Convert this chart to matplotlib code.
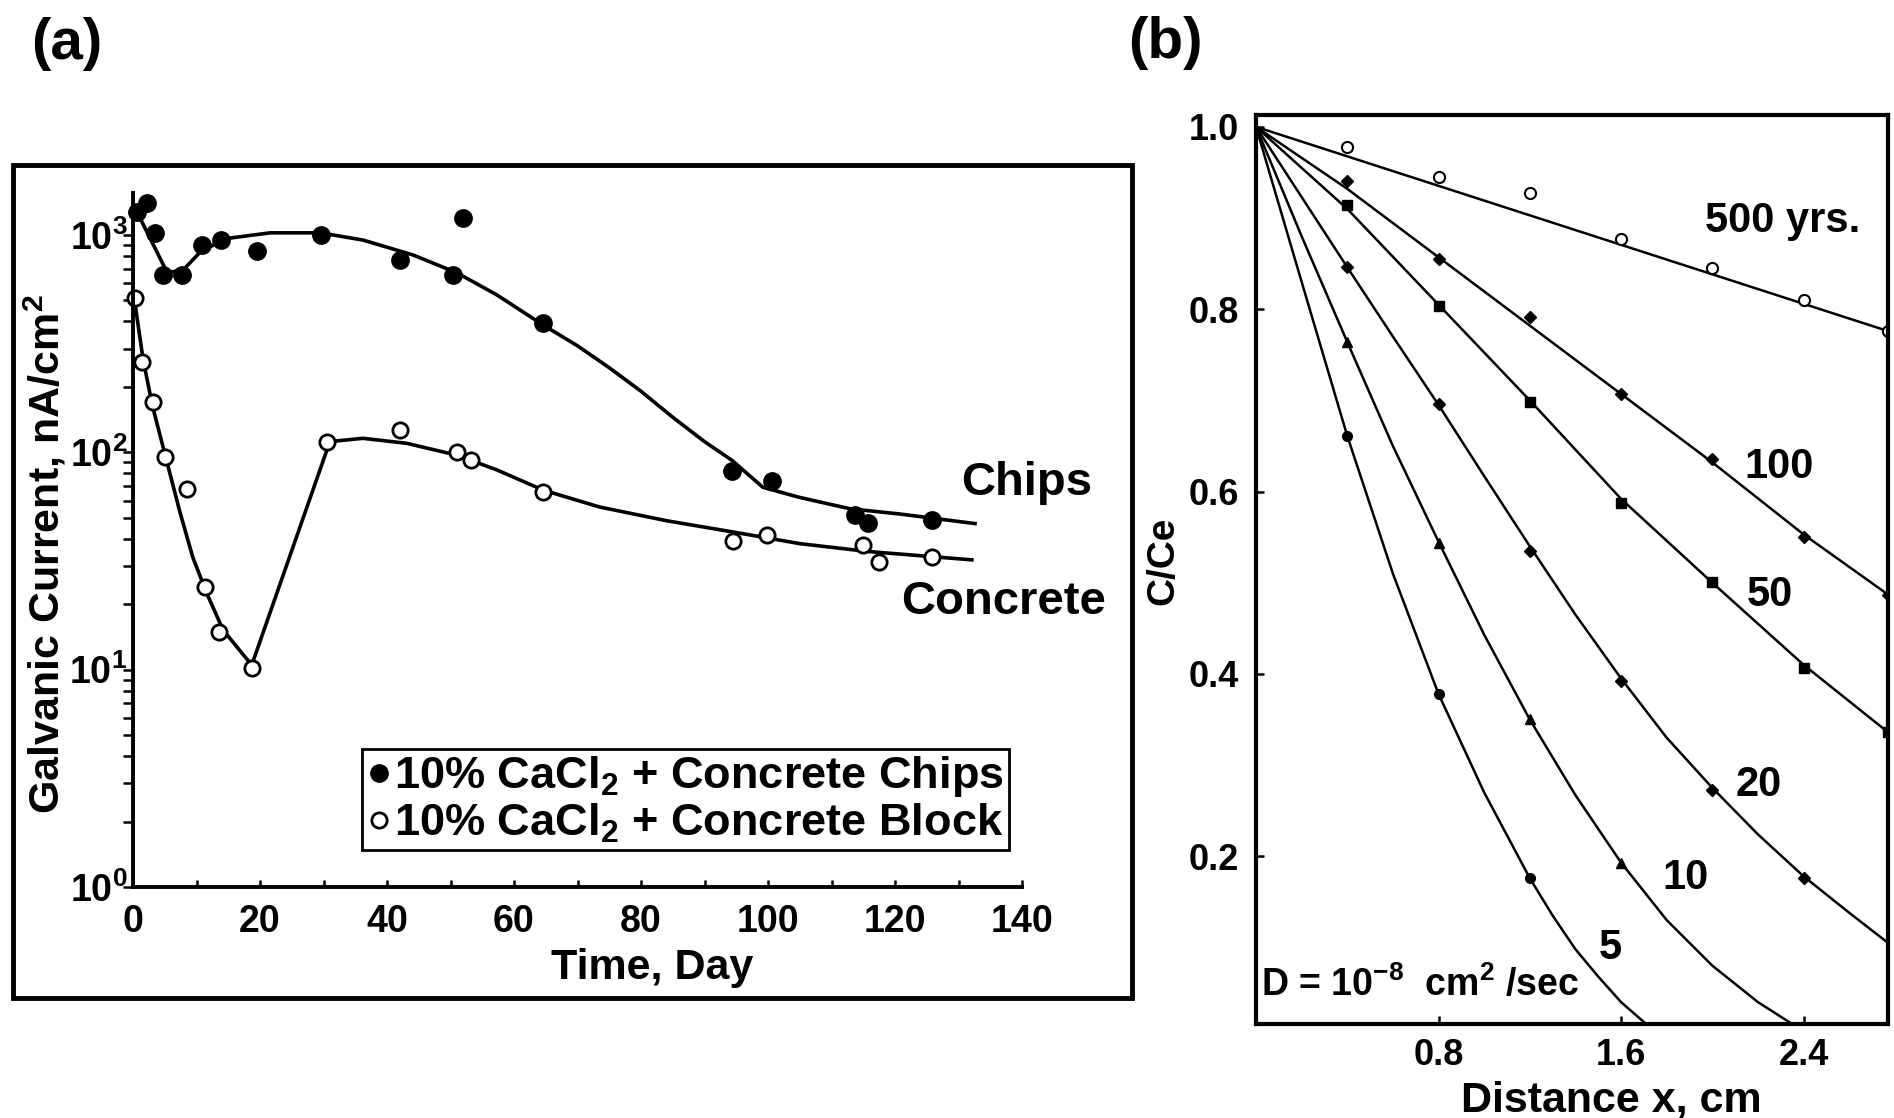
import numpy as np
import matplotlib
matplotlib.use('Agg')
import matplotlib.pyplot as plt
from matplotlib.patches import Rectangle
from matplotlib.ticker import LogLocator, NullFormatter

plt.rcParams['font.family'] = ['Liberation Sans', 'DejaVu Sans']
plt.rcParams['font.weight'] = 'bold'
plt.rcParams['axes.labelweight'] = 'bold'
plt.rcParams['mathtext.fontset'] = 'custom'
plt.rcParams['mathtext.rm'] = 'Liberation Sans:bold'
plt.rcParams['mathtext.it'] = 'Liberation Sans:bold'
plt.rcParams['mathtext.bf'] = 'Liberation Sans:bold'
plt.rcParams['mathtext.sf'] = 'Liberation Sans:bold'

###### data (a): galvanic current vs time
chips_day = [0.6, 2.2, 3.5, 4.8, 7.7, 10.9, 13.9, 19.6, 29.6, 42.1, 50.4, 51.9, 64.6,
             94.3, 100.6, 113.7, 115.7, 125.8]
chips_cur = [1277, 1406, 1023, 655, 655, 900, 949, 845, 1000, 768, 655, 1199, 394,
             82, 74, 51.5, 47.3, 48.9]
block_day = [0.3, 1.4, 3.1, 5.0, 8.5, 11.3, 13.5, 18.7, 30.6, 42.1, 51.0, 53.2, 64.6,
             94.5, 99.8, 115.0, 117.5, 125.8]
block_cur = [514, 261, 171, 95, 68, 24, 14.9, 10.2, 112, 127, 100, 92, 66,
             39.1, 41.7, 37.5, 31.3, 33]

chips_fit_day = [0.3, 5.4, 7.9, 10.9, 15.3, 21.6, 29.5, 36.2, 44.1, 51.0, 57.3, 64.6,
                 70.0, 75.0, 80.0, 85.0, 90.0, 94.3, 99.2, 105.0, 112.9, 120.8, 132.6]
chips_fit_cur = [1334, 670, 690, 853, 968, 1023, 1023, 948, 809, 670, 530, 385,
                 309, 245, 191, 145, 112, 92, 69, 62, 55, 52, 47]
block_fit_day = [0.0, 1.6, 3.1, 5.4, 7.4, 9.4, 11.6, 14.2, 18.7, 31.0, 36.2, 43.1,
                 51.0, 57.3, 64.6, 73.5, 84.1, 94.5, 105.0, 115.6, 132.1]
block_fit_cur = [560, 266, 162, 89, 53, 33, 22.5, 15.2, 10.5, 112, 116, 110,
                 97, 83, 67, 56, 48.4, 43, 38, 35, 32]

xticks_a = [0, 20, 40, 60, 80, 100, 120, 140]
yticks_a = [1, 10, 100, 1000]
ytick_labels_a = ['$10^{0}$', '$10^{1}$', '$10^{2}$', '$10^{3}$']
legend_labels = ['10% CaCl$_2$ + Concrete Chips', '10% CaCl$_2$ + Concrete Block']

###### data (b): C/Ce vs distance
pts_x = [0.4, 0.8, 1.2, 1.6, 2.0, 2.4, 2.77]
p500 = [0.978, 0.945, 0.927, 0.877, 0.845, 0.810, 0.776]
p100 = [0.941, 0.855, 0.791, 0.707, 0.636, 0.550, 0.487]
p50 = [0.914, 0.804, 0.698, 0.587, 0.501, 0.407, 0.336]
p20 = [0.846, 0.696, 0.535, 0.392, 0.273, 0.176]
p10 = [0.764, 0.544, 0.350, 0.193]
p5 = [0.661, 0.378, 0.176]

l500_x = [0, 2.77]
l500_y = [1.0, 0.776]
l100_x = [0, 0.4, 0.8, 1.2, 1.6, 2.0, 2.4, 2.77]
l100_y = [1.0, 0.932, 0.857, 0.782, 0.707, 0.632, 0.553, 0.487]
l50_x = [0, 0.4, 0.8, 1.2, 1.6, 2.0, 2.4, 2.77]
l50_y = [1.0, 0.91, 0.805, 0.70, 0.592, 0.50, 0.41, 0.336]
l20_x = [0, 0.2, 0.4, 0.6, 0.8, 1.0, 1.2, 1.4, 1.6, 1.8, 2.0, 2.2, 2.4, 2.6, 2.77]
l20_y = [1.0, 0.923, 0.846, 0.77, 0.695, 0.617, 0.54, 0.465, 0.395, 0.33, 0.275,
         0.224, 0.178, 0.138, 0.105]
l10_x = [0, 0.2, 0.4, 0.6, 0.8, 1.0, 1.2, 1.4, 1.6, 1.8, 2.0, 2.2, 2.35]
l10_y = [1.0, 0.88, 0.764, 0.65, 0.545, 0.443, 0.35, 0.267, 0.193, 0.13, 0.08,
         0.04, 0.016]
l5_x = [0, 0.2, 0.4, 0.6, 0.8, 1.0, 1.2, 1.3, 1.4, 1.5, 1.6, 1.71]
l5_y = [1.0, 0.83, 0.661, 0.51, 0.378, 0.27, 0.176, 0.135, 0.098, 0.068, 0.04, 0.016]

xticks_b = [0.8, 1.6, 2.4]
yticks_b = [0.2, 0.4, 0.6, 0.8, 1.0]

W, H = 1894, 1118
fig = plt.figure(figsize=(W / 100, H / 100), dpi=100)

###### panel (a)
ax1 = fig.add_axes([133 / W, (H - 887) / H, 889 / W, 694 / H])
ax1.set_yscale('log')
ax1.plot(chips_fit_day, chips_fit_cur, 'k-', lw=2.6, clip_on=False)
ax1.plot(block_fit_day, block_fit_cur, 'k-', lw=2.6, clip_on=False)
h1, = ax1.plot(chips_day, chips_cur, 'o', color='k', ms=12.5, ls='none', clip_on=False)
h2, = ax1.plot(block_day, block_cur, 'o', mfc='white', mec='k', mew=2.0, ms=11,
               ls='none', clip_on=False)
ax1.set_xlim(0, 140)
ax1.set_ylim(1, 1560)
ax1.spines['top'].set_visible(False)
ax1.spines['right'].set_visible(False)
ax1.spines['left'].set_linewidth(2.8)
ax1.spines['bottom'].set_linewidth(2.8)
ax1.set_xticks(xticks_a)
ax1.set_xticks(np.arange(10, 140, 20), minor=True)
ax1.set_yticks(yticks_a)
ax1.set_yticklabels(ytick_labels_a)
ax1.yaxis.set_minor_locator(LogLocator(base=10, subs=np.arange(2, 10)))
ax1.yaxis.set_minor_formatter(NullFormatter())
ax1.tick_params(axis='x', which='both', direction='in', length=5, width=1.8,
                labelsize=27, pad=12)
ax1.tick_params(axis='y', which='both', direction='out', length=7, width=1.8,
                labelsize=27, pad=-3)
ax1.set_xlabel('Time, Day', fontsize=31, fontweight='bold')
ax1.xaxis.set_label_coords(0.584, -0.088)
ax1.set_ylabel('Galvanic Current, nA/cm$^{2}$', fontsize=31, fontweight='bold')
ax1.yaxis.set_label_coords(-0.072, 0.48)

ax1.text(130.4, 72, 'Chips', fontsize=34, ha='left', va='center', clip_on=False)
ax1.text(121, 20.5, 'Concrete', fontsize=34, ha='left', va='center', clip_on=False)

leg = ax1.legend([h1, h2], legend_labels, loc='upper left',
                 bbox_to_anchor=(362 / W, 1 - 749 / H), bbox_transform=fig.transFigure,
                 fontsize=32.5, frameon=True, fancybox=False, framealpha=1,
                 edgecolor='k', borderpad=0.12, labelspacing=0.05, handlelength=0.5,
                 handletextpad=0.08, borderaxespad=0)
leg.get_frame().set_linewidth(2.0)

fig.patches.append(Rectangle((13 / W, (H - 998) / H), (1132 - 13) / W, (998 - 165) / H,
                             transform=fig.transFigure, fill=False, lw=3.5, ec='k'))
fig.text(67 / W, 1 - 44 / H, '(a)', fontsize=42, ha='center', va='center')

###### panel (b)
ax2 = fig.add_axes([1256 / W, (H - 1024) / H, (1888 - 1256) / W, (1024 - 115) / H])
for lx, ly in [(l500_x, l500_y), (l100_x, l100_y), (l50_x, l50_y),
               (l20_x, l20_y), (l10_x, l10_y), (l5_x, l5_y)]:
    ax2.plot(lx, ly, 'k-', lw=1.8)
ax2.plot(pts_x, p500, 'o', mfc='white', mec='k', mew=1.5, ms=8, ls='none')
ax2.plot(pts_x, p100, 'D', color='k', ms=6.5, ls='none')
ax2.plot(pts_x, p50, 's', color='k', ms=7, ls='none')
ax2.plot(pts_x[:6], p20, 'D', color='k', ms=6.5, ls='none')
ax2.plot(pts_x[:4], p10, '^', color='k', ms=7, ls='none')
ax2.plot(pts_x[:3], p5, 'o', color='k', ms=7, ls='none')
ax2.set_xlim(0, 2.77)
ax2.set_ylim(0.016, 1.013)
for s in ax2.spines.values():
    s.set_linewidth(3.0)
ax2.set_xticks(xticks_b)
ax2.set_xticklabels(['0.8', '1.6', '2.4'])
ax2.set_yticks(yticks_b)
ax2.set_yticklabels(['0.2', '0.4', '0.6', '0.8', '1.0'])
ax2.tick_params(axis='both', direction='in', length=6, width=1.8, labelsize=26)
ax2.tick_params(axis='x', pad=10)
ax2.tick_params(axis='y', pad=12)
ax2.set_xlabel('Distance x, cm', fontsize=31, fontweight='bold')
ax2.xaxis.set_label_coords(0.562, -0.062)
ax2.set_ylabel('C/Ce', fontsize=28, fontweight='bold')
ax2.yaxis.set_label_coords(-0.118, 0.51)

ax2.text(1.97, 0.897, '500 yrs.', fontsize=30, ha='left', va='center')
ax2.text(2.14, 0.627, '100', fontsize=30, ha='left', va='center')
ax2.text(2.15, 0.486, '50', fontsize=30, ha='left', va='center')
ax2.text(2.10, 0.278, '20', fontsize=30, ha='left', va='center')
ax2.text(1.78, 0.176, '10', fontsize=30, ha='left', va='center')
ax2.text(1.50, 0.099, '5', fontsize=30, ha='left', va='center')
ax2.text(0.02, 0.059, 'D = 10$^{-8}$  cm$^{2}$ /sec', fontsize=27, ha='left', va='center')

fig.text(1165 / W, 1 - 43 / H, '(b)', fontsize=42, ha='center', va='center')

plt.savefig('out.png', dpi=100)
